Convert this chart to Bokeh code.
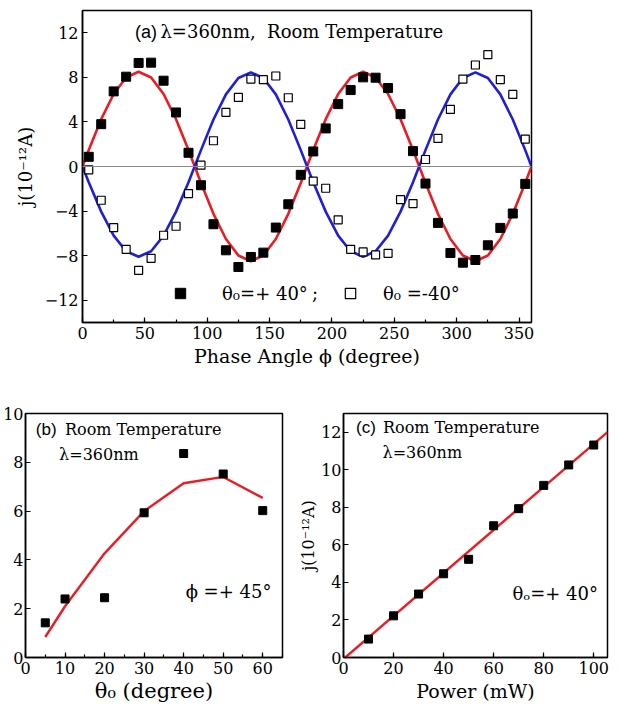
from bokeh.plotting import figure
from bokeh.layouts import column, row
from bokeh.models import Span, Label, Legend, LegendItem, Range1d, SingleIntervalTicker
from bokeh.embed import file_html
from bokeh.resources import INLINE

# ---------------- data: panel (a) ----------------
phi = [5, 15, 25, 35, 45, 55, 65, 75, 85, 95, 105, 115, 125, 135, 145, 155, 165, 175,
       185, 195, 205, 215, 225, 235, 245, 255, 265, 275, 285, 295, 305, 315, 325, 335, 345, 355]
j_plus40 = [0.87, 3.80, 6.74, 8.06, 9.29, 9.32, 7.70, 4.85, 1.23, -1.68, -5.18, -7.52, -9.02, -8.12,
            -7.73, -5.48, -3.39, -0.75, 1.35, 3.42, 5.60, 6.86, 8.00, 7.97, 7.04, 4.70, 1.38, -1.53,
            -5.06, -7.76, -8.63, -8.39, -7.07, -5.51, -4.22, -1.56]
j_minus40 = [-0.30, -3.03, -5.48, -7.43, -9.32, -8.24, -6.17, -5.36, -2.43, 0.12, 2.31, 4.85, 6.20, 7.85,
             7.79, 8.12, 6.17, 3.78, -1.32, -1.95, -4.79, -7.43, -7.67, -7.94, -7.79, -2.97, -3.33, 0.63,
             2.52, 5.12, 7.85, 9.11, 10.04, 7.79, 6.47, 2.46]
fit_phi = [0, 5, 15, 25, 35, 45, 55, 65, 75, 85, 95, 105, 115, 125, 135, 145, 155, 165, 175,
           185, 195, 205, 215, 225, 235, 245, 255, 265, 275, 285, 295, 305, 315, 325, 335, 345, 355, 360]
fit_plus40 = [0, 1.48, 4.25, 6.51, 7.99, 8.50, 7.99, 6.51, 4.25, 1.48, -1.48, -4.25, -6.51, -7.99,
              -8.50, -7.99, -6.51, -4.25, -1.48, 1.48, 4.25, 6.51, 7.99, 8.50, 7.99, 6.51, 4.25, 1.48,
              -1.48, -4.25, -6.51, -7.99, -8.50, -7.99, -6.51, -4.25, -1.48, 0]
fit_minus40 = [0, -1.41, -4.05, -6.20, -7.61, -8.10, -7.61, -6.20, -4.05, -1.41, 1.47, 4.22, 6.47, 7.94,
               8.45, 7.94, 6.47, 4.22, 1.47, -1.41, -4.05, -6.20, -7.61, -8.10, -7.61, -6.20, -4.05, -1.41,
               1.47, 4.22, 6.47, 7.94, 8.45, 7.94, 6.47, 4.22, 1.47, 0]

# ---------------- data: panel (b) ----------------
theta0 = [5, 10, 20, 30, 40, 50, 60]
j_theta = [1.42, 2.40, 2.45, 5.93, 8.36, 7.52, 6.02]
fit_theta0 = [5, 10, 20, 30, 40, 50, 60]
fit_j_theta = [0.84, 2.10, 4.27, 6.00, 7.14, 7.40, 6.54]

# ---------------- data: panel (c) ----------------
power = [10, 20, 30, 40, 50, 60, 70, 80, 90, 100]
j_power = [0.98, 2.22, 3.38, 4.46, 5.23, 7.02, 7.93, 9.17, 10.26, 11.32]
fit_power = [0.7, 105.5]
fit_j_power = [0.0, 12.01]

SERIF = "DejaVu Serif"
RED = "#ec1c24"
BLUE = "#1f1fd8"


def style(p, xint, yint, xminor, yminor):
    p.outline_line_color = "black"
    p.outline_line_width = 1.5
    p.xgrid.visible = False
    p.ygrid.visible = False
    p.background_fill_color = "white"
    p.border_fill_color = "white"
    p.xaxis.ticker = SingleIntervalTicker(interval=xint, num_minor_ticks=xminor)
    p.yaxis.ticker = SingleIntervalTicker(interval=yint, num_minor_ticks=yminor)
    for ax in list(p.xaxis) + list(p.yaxis):
        ax.major_tick_in = 5
        ax.major_tick_out = 0
        ax.minor_tick_in = 3
        ax.minor_tick_out = 0
        ax.axis_line_width = 1.5
        ax.major_tick_line_width = 1.2
        ax.minor_tick_line_width = 1.2
        ax.major_label_text_font = SERIF
        ax.major_label_text_font_size = "16px"
        ax.major_label_text_color = "black"
        ax.axis_label_text_font = SERIF
        ax.axis_label_text_font_style = "normal"
        ax.axis_label_text_color = "black"
        ax.major_label_standoff = 4
    if yminor == 0:
        p.yaxis.minor_tick_line_color = None


def lab(p, x, y, text, size="16px", font=SERIF):
    p.add_layout(Label(x=x, y=y, text=text, text_font=font, text_font_size=size,
                       text_baseline="middle", text_color="black"))


# ================= panel (a) =================
pa = figure(width=619, height=388, output_backend="svg", toolbar_location=None,
            x_range=Range1d(0, 360), y_range=Range1d(-14, 14),
            min_border_left=82, min_border_right=88, min_border_top=10, min_border_bottom=66)
style(pa, 50, 4, 2, 0)
pa.xaxis.axis_label = "Phase Angle ϕ (degree)"
pa.xaxis.axis_label_text_font_size = "19px"
pa.xaxis.axis_label_standoff = 3
pa.yaxis.axis_label = "j(10⁻¹²A)"
pa.yaxis.axis_label_text_font_size = "18px"
pa.yaxis.axis_label_standoff = 6

pa.add_layout(Span(location=0, dimension="width", line_color="#8a8a8a", line_width=1.2))
pa.line(fit_phi, fit_plus40, line_color=RED, line_width=2.6)
pa.line(fit_phi, fit_minus40, line_color=BLUE, line_width=2.6)
r_fill = pa.scatter(phi, j_plus40, marker="square", size=9, fill_color="black", line_color="black")
r_open = pa.scatter(phi, j_minus40, marker="square", size=8, fill_color="white", line_color="black",
                    line_width=1.2)

lab(pa, 42, 12.1, "(a)", "18px", "Liberation Sans")
lab(pa, 62.5, 12.1, "λ=360nm,\u00a0\u00a0Room Temperature", "18px")
lab(pa, 184, -11.4, ";", "18px")

leg1 = Legend(items=[LegendItem(label="θ₀=+ 40°", renderers=[r_fill])], location=(85, 16),
              orientation="horizontal", padding=0, margin=0, glyph_width=26, glyph_height=26,
              label_standoff=29, border_line_alpha=0, background_fill_alpha=0,
              label_text_font=SERIF, label_text_font_size="18px", label_text_color="black")
leg2 = Legend(items=[LegendItem(label="θ₀ =-40°", renderers=[r_open])], location=(255, 16),
              orientation="horizontal", padding=0, margin=0, glyph_width=26, glyph_height=26,
              label_standoff=20, border_line_alpha=0, background_fill_alpha=0,
              label_text_font=SERIF, label_text_font_size="18px", label_text_color="black")
pa.add_layout(leg1, "center")
pa.add_layout(leg2, "center")

# ================= panel (b) =================
pb = figure(width=296, height=318, output_backend="svg", toolbar_location=None,
            x_range=Range1d(0, 65), y_range=Range1d(0, 10),
            min_border_left=20, min_border_right=14, min_border_top=21, min_border_bottom=49)
style(pb, 10, 2, 2, 0)
pb.yaxis.major_label_standoff = 2
pb.xaxis.axis_label = "θ₀ (degree)"
pb.xaxis.axis_label_text_font_size = "21px"
pb.xaxis.axis_label_standoff = 2
pb.line(fit_theta0, fit_j_theta, line_color=RED, line_width=2.4)
pb.scatter(theta0, j_theta, marker="square", size=8, fill_color="black", line_color="black")
lab(pb, 2.6, 9.35, "(b)", "17px", "Liberation Sans")
lab(pb, 10.0, 9.35, "Room Temperature", "16px")
lab(pb, 8.5, 8.3, "λ=360nm", "16px")
lab(pb, 40.5, 2.7, "ϕ =+ 45°", "18px")

# ================= panel (c) =================
pc = figure(width=323, height=318, output_backend="svg", toolbar_location=None,
            x_range=Range1d(0, 105.5), y_range=Range1d(0, 13),
            min_border_left=44, min_border_right=12, min_border_top=25, min_border_bottom=49)
style(pc, 20, 2, 1, 0)
pc.yaxis.major_label_standoff = 2
pc.xaxis.axis_label = "Power (mW)"
pc.xaxis.axis_label_text_font_size = "19px"
pc.xaxis.axis_label_standoff = 3
pc.yaxis.axis_label = "j(10⁻¹²A)"
pc.yaxis.axis_label_text_font_size = "16px"
pc.yaxis.axis_label_standoff = 0
pc.line(fit_power, fit_j_power, line_color=RED, line_width=2.4)
pc.scatter(power, j_power, marker="square", size=8, fill_color="black", line_color="black")
lab(pc, 5.0, 12.25, "(c)", "17px", "Liberation Sans")
lab(pc, 15.8, 12.25, "Room Temperature", "16px")
lab(pc, 15.6, 10.9, "λ=360nm", "16px")
lab(pc, 67.5, 3.4, "θₒ=+ 40°", "18px")

layout = column(pa, row(pb, pc))
open("out.html", "w").write(file_html(layout, INLINE))
